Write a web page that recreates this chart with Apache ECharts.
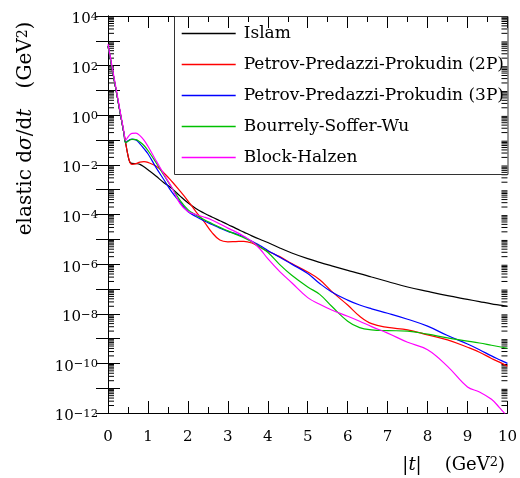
<!DOCTYPE html>
<html><head><meta charset="utf-8">
<script src="https://cdn.jsdelivr.net/npm/echarts@6/dist/echarts.min.js"></script>
<style>html,body{margin:0;padding:0;background:#fff}#c{width:520px;height:478px}</style>
</head><body><div id="c"></div>
<script>
// |t| values (GeV^2)
const t = [0,0.1,0.2,0.3,0.4,0.44,0.5,0.55,0.6,0.7,0.8,0.9,1.0,1.2,1.4,1.6,1.8,2.0,2.2,2.4,2.6,2.8,3.0,3.2,3.4,3.6,3.8,4.0,4.3,4.6,5.0,5.3,5.6,6.0,6.3,6.6,7.0,7.5,8.0,8.5,9.0,9.3,9.6,9.8,10];
const islam = [6.31e2,8.13e1,1.07e1,1.38e0,1.82e-1,7.94e-2,2.40e-2,1.26e-2,1.15e-2,1.12e-2,1.05e-2,8.32e-3,6.31e-3,3.55e-3,1.91e-3,1.12e-3,5.62e-4,2.95e-4,1.74e-4,1.15e-4,7.94e-5,5.62e-5,3.98e-5,2.75e-5,1.95e-5,1.38e-5,1.00e-5,7.41e-6,4.47e-6,2.82e-6,1.66e-6,1.17e-6,8.51e-7,5.62e-7,4.17e-7,3.02e-7,2.00e-7,1.20e-7,7.94e-8,5.37e-8,3.80e-8,3.09e-8,2.51e-8,2.24e-8,2.00e-8];
const ppp2 = [6.31e2,8.13e1,1.07e1,1.38e0,1.82e-1,7.94e-2,2.40e-2,1.26e-2,1.05e-2,1.12e-2,1.29e-2,1.35e-2,1.26e-2,8.91e-3,4.68e-3,2.14e-3,8.91e-4,3.55e-4,1.32e-4,5.25e-5,1.91e-5,9.33e-6,7.94e-6,8.13e-6,8.32e-6,7.08e-6,4.79e-6,3.31e-6,2.00e-6,1.05e-6,4.79e-7,2.34e-7,7.94e-8,2.24e-8,7.94e-9,3.98e-9,2.82e-9,2.24e-9,1.41e-9,8.91e-10,4.47e-10,2.82e-10,1.58e-10,1.12e-10,7.59e-11];
const ppp3 = [6.31e2,8.13e1,1.07e1,1.38e0,1.82e-1,7.94e-2,9.33e-2,1.05e-1,1.10e-1,1.00e-1,7.08e-2,4.47e-2,2.82e-2,7.94e-3,2.51e-3,7.94e-4,3.16e-4,1.32e-4,8.32e-5,5.62e-5,3.98e-5,2.82e-5,2.09e-5,1.66e-5,1.26e-5,8.32e-6,5.62e-6,3.55e-6,1.91e-6,1.00e-6,4.17e-7,1.66e-7,7.59e-8,3.55e-8,2.24e-8,1.58e-8,1.05e-8,6.03e-9,3.16e-9,1.32e-9,6.03e-10,3.55e-10,2.00e-10,1.41e-10,1.00e-10];
const bsw = [6.31e2,8.13e1,1.07e1,1.38e0,1.82e-1,7.94e-2,8.91e-2,1.00e-1,1.07e-1,1.05e-1,8.32e-2,6.03e-2,3.80e-2,1.26e-2,3.80e-3,1.20e-3,3.80e-4,1.58e-4,9.55e-5,6.31e-5,4.37e-5,3.02e-5,2.19e-5,1.58e-5,1.15e-5,7.94e-6,5.01e-6,3.02e-6,9.55e-7,3.55e-7,1.20e-7,6.03e-8,2.00e-8,5.01e-9,2.75e-9,2.24e-9,2.09e-9,2.00e-9,1.51e-9,1.07e-9,7.94e-10,6.61e-10,5.37e-10,4.68e-10,4.07e-10];
const bh = [7.41e2,9.55e1,1.26e1,1.58e0,2.09e-1,1.00e-1,1.32e-1,1.66e-1,1.86e-1,1.91e-1,1.51e-1,1.00e-1,5.62e-2,1.51e-2,4.17e-3,1.20e-3,2.82e-4,1.32e-4,1.00e-4,7.94e-5,6.03e-5,4.17e-5,2.82e-5,2.00e-5,1.32e-5,8.32e-6,4.17e-6,1.66e-6,5.01e-7,1.78e-7,4.47e-8,2.40e-8,1.41e-8,7.94e-9,5.01e-9,3.02e-9,1.66e-9,7.08e-10,3.55e-10,7.59e-11,1.12e-11,7.08e-12,3.55e-12,1.66e-12,7.08e-13];

const seriesNames = ['Islam','Petrov-Predazzi-Prokudin (2P)','Petrov-Predazzi-Prokudin (3P)','Bourrely-Soffer-Wu','Block-Halzen'];
const seriesData = [islam, ppp2, ppp3, bsw, bh];
const seriesColors = ['#000000','#ff0000','#0000ff','#00c000','#ff00ff'];
const yDecades = [-12,-11,-10,-9,-8,-7,-6,-5,-4,-3,-2,-1,0,1,2,3];
const yMinorMult = [2,3,4,5,6,7,8,9];

const FONT = 'DejaVu Serif';
const minorVals = [];
yDecades.forEach(d => yMinorMult.forEach(m => minorVals.push([0, m * Math.pow(10, d)])));

function supLabel(v) {
  const e = Math.round(Math.log10(v));
  if (e % 2 !== 0) return '';
  const es = e < 0 ? '\u2212' + (-e) : String(e);
  return '{a|10}{s|' + es + '}';
}
const supRich = {
  a: {fontSize: 15, fontFamily: FONT, color: '#000', lineHeight: 16, padding: [4,0,0,0], verticalAlign: 'bottom'},
  s: {fontSize: 11.5, fontFamily: FONT, color: '#000', lineHeight: 11, verticalAlign: 'top'}
};
function nameRich(fs) {
  return {
    r: {fontSize: fs, fontFamily: FONT, fill: '#000', lineHeight: fs, padding: [5,0,0,0], verticalAlign: 'bottom'},
    i: {fontSize: fs, fontFamily: FONT, fontStyle: 'italic', fill: '#000', lineHeight: fs, padding: [5,0,0,0], verticalAlign: 'bottom'},
    s: {fontSize: Math.round(fs * 0.7), fontFamily: FONT, fill: '#000', lineHeight: Math.round(fs * 0.7), verticalAlign: 'top'}
  };
}

const chart = echarts.init(document.getElementById('c'), null, {renderer: 'canvas'});
const xCommon = {
  type: 'value', min: 0, max: 10, interval: 1, gridIndex: 0,
  axisLine: {show: true, lineStyle: {color: '#000', width: 1}},
  axisTick: {show: true, inside: true, length: 12, lineStyle: {color: '#000'}},
  minorTick: {show: true, splitNumber: 2, length: 6, lineStyle: {color: '#000'}},
  splitLine: {show: false}
};
const yCommon = {
  type: 'log', logBase: 10, min: 1e-12, max: 1e4, interval: 1, gridIndex: 0,
  axisLine: {show: true, lineStyle: {color: '#000', width: 1}},
  axisTick: {show: true, inside: true, length: 12, lineStyle: {color: '#000'}},
  minorTick: {show: false},
  splitLine: {show: false}
};

const series = seriesNames.map((n, i) => ({
  name: n, type: 'line', xAxisIndex: 0, yAxisIndex: 0,
  data: t.map((x, j) => [x, seriesData[i][j]]),
  symbol: 'none', showSymbol: false, smooth: 0.4,
  color: seriesColors[i],
  lineStyle: {color: seriesColors[i], width: 1.2},
  itemStyle: {color: seriesColors[i], opacity: 0},
  clip: true, silent: true
}));
series.push({
  type: 'custom', xAxisIndex: 0, yAxisIndex: 0, silent: true, clip: false,
  data: minorVals, encode: {x: 0, y: 1},
  renderItem: (params, api) => {
    const v = api.value(1);
    const pl = api.coord([0, v]);
    const pr = api.coord([10, v]);
    return {type: 'group', children: [
      {type: 'line', shape: {x1: pl[0], y1: pl[1], x2: pl[0] + 6, y2: pl[1]}, style: {stroke: '#000', lineWidth: 1}},
      {type: 'line', shape: {x1: pr[0], y1: pr[1], x2: pr[0] - 6, y2: pr[1]}, style: {stroke: '#000', lineWidth: 1}}
    ]};
  }
});

chart.setOption({
  animation: false,
  backgroundColor: '#fff',
  color: seriesColors,
  grid: {left: 108, right: 12, top: 16, bottom: 65, containLabel: false},
  xAxis: [
    Object.assign({}, xCommon, {position: 'bottom',
      axisLabel: {show: true, margin: 17, color: '#000', fontSize: 15, fontFamily: FONT}}),
    Object.assign({}, xCommon, {position: 'top', axisLabel: {show: false}})
  ],
  yAxis: [
    Object.assign({}, yCommon, {position: 'left',
      axisLabel: {show: true, margin: 10, padding: [6,0,0,0], formatter: supLabel, rich: supRich}}),
    Object.assign({}, yCommon, {position: 'right', axisLabel: {show: false}})
  ],
  legend: {
    data: seriesNames, orient: 'vertical', left: 181, top: 25,
    itemWidth: 54, itemHeight: 14, itemGap: 14, padding: 0,
    itemStyle: {opacity: 0},
    lineStyle: {width: 1.4},
    textStyle: {fontSize: 17, fontFamily: FONT, color: '#000', lineHeight: 17, padding: [0,0,0,3]},
    selectedMode: false
  },
  graphic: [
    {type: 'rect', z: 100, shape: {x: 174.5, y: 16.5, width: 333.5, height: 158},
     style: {fill: 'none', stroke: '#333', lineWidth: 1}},
    {type: 'text', z: 100, x: 412, y: 465,
     style: {text: '{r||}{i|t}{r||}', align: 'center', verticalAlign: 'middle',
       textAlign: 'center', textVerticalAlign: 'middle', rich: nameRich(18)}},
    {type: 'text', z: 100, x: 505, y: 465,
     style: {text: '{r|(GeV}{s|2}{r|)}', align: 'right', verticalAlign: 'middle',
       textAlign: 'right', textVerticalAlign: 'middle', rich: nameRich(18)}},
    {type: 'text', z: 100, x: 26, y: 172, rotation: Math.PI / 2,
     style: {text: '{r|elastic d}{i|\u03c3}{r|/d}{i|t}', align: 'center', verticalAlign: 'middle',
       textAlign: 'center', textVerticalAlign: 'middle', rich: nameRich(20)}},
    {type: 'text', z: 100, x: 26, y: 55, rotation: Math.PI / 2,
     style: {text: '{r|(GeV}{s|2}{r|)}', align: 'center', verticalAlign: 'middle',
       textAlign: 'center', textVerticalAlign: 'middle', rich: nameRich(20)}}
  ],
  series: series
});
</script></body></html>
